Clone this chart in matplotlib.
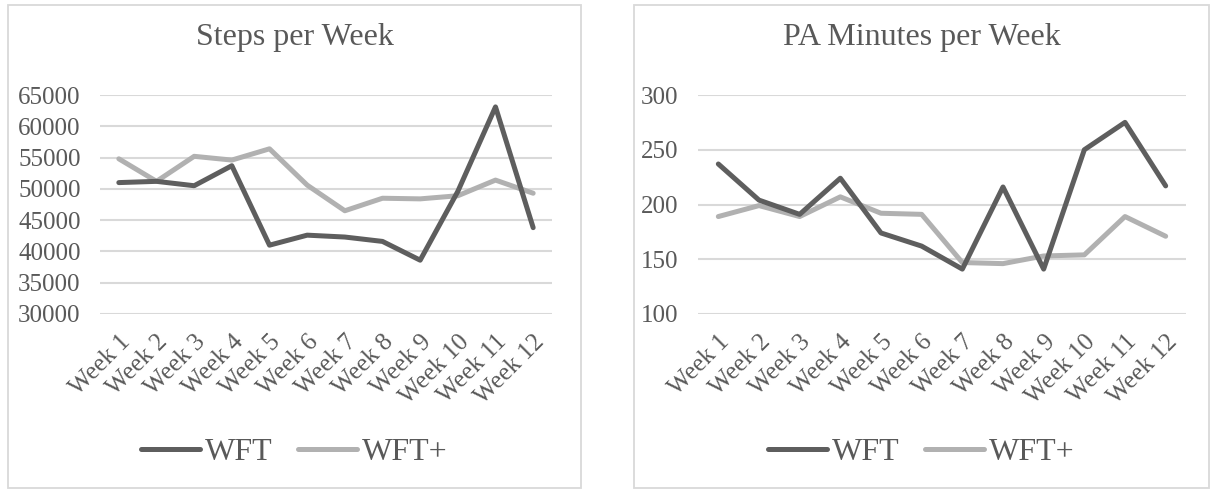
import matplotlib
matplotlib.use("Agg")
import matplotlib.pyplot as plt
from matplotlib.patches import Rectangle

# данные
weeks = ["Week %d" % i for i in range(1, 13)]
steps_wft = [51000, 51200, 50500, 53700, 41000, 42600, 42300, 41600, 38600, 49600, 63100, 43800]
steps_wftp = [54800, 51200, 55200, 54600, 56400, 50600, 46500, 48500, 48400, 48900, 51400, 49300]
pa_wft = [237, 204, 191, 224, 174, 162, 141, 216, 141, 250, 275, 217]
pa_wftp = [189, 199, 189, 207, 192, 191, 147, 146, 153, 154, 189, 171]

DARK = "#5e5e5e"
LIGHT = "#b1b1b1"
TEXT = "#595959"
GRID = "#d9d9d9"

plt.rcParams["font.family"] = ["Liberation Serif", "DejaVu Serif"]

W, H = 1212, 492
fig = plt.figure(figsize=(W / 100, H / 100), dpi=100)


def panel(box, plot, title, wft, wftp, ylim, step):
    x0, x1 = box
    # рамка панели
    fig.patches.append(Rectangle((x0 / W, 1 - 488 / H), (x1 - x0) / W, 483 / H,
                                 transform=fig.transFigure, fill=False,
                                 edgecolor=GRID, linewidth=1.3))
    cx = (x0 + x1) / 2 / W
    ax = fig.add_axes([plot[0] / W, 1 - 314 / H, (plot[1] - plot[0]) / W, 219 / H])
    x = list(range(len(weeks)))
    ax.plot(x, wft, color=DARK, lw=3.6, label="WFT", solid_capstyle="round", zorder=3)
    ax.plot(x, wftp, color=LIGHT, lw=3.6, label="WFT+", solid_capstyle="round", zorder=2)
    ax.set_xlim(-0.5, len(weeks) - 0.5)
    ax.set_ylim(*ylim)
    ax.set_yticks(range(ylim[0], ylim[1] + 1, step))
    ax.set_xticks(x)
    ax.set_xticklabels(weeks, rotation=45, ha="right", rotation_mode="anchor")
    ax.grid(axis="y", color=GRID, lw=1.5)
    ax.set_axisbelow(True)
    for s in ax.spines.values():
        s.set_visible(False)
    ax.tick_params(axis="both", length=0, labelsize=18, labelcolor=TEXT)
    ax.tick_params(axis="x", pad=12)
    ax.tick_params(axis="y", pad=14)
    fig.text(cx, 1 - 38 / H, title, ha="center", va="center", fontsize=23, color=TEXT)
    ax.legend(loc="center", bbox_to_anchor=(cx, 1 - 452 / H), bbox_transform=fig.transFigure,
              ncol=2, frameon=False, fontsize=23, handlelength=1.85, handletextpad=0.15,
              columnspacing=0.8, labelcolor=TEXT)
    return ax


panel((8, 581), (100, 552), "Steps per Week", steps_wft, steps_wftp, (30000, 65000), 5000)
panel((634, 1209), (698, 1186), "PA Minutes per Week", pa_wft, pa_wftp, (100, 300), 50)

fig.savefig("out.png", dpi=100)
